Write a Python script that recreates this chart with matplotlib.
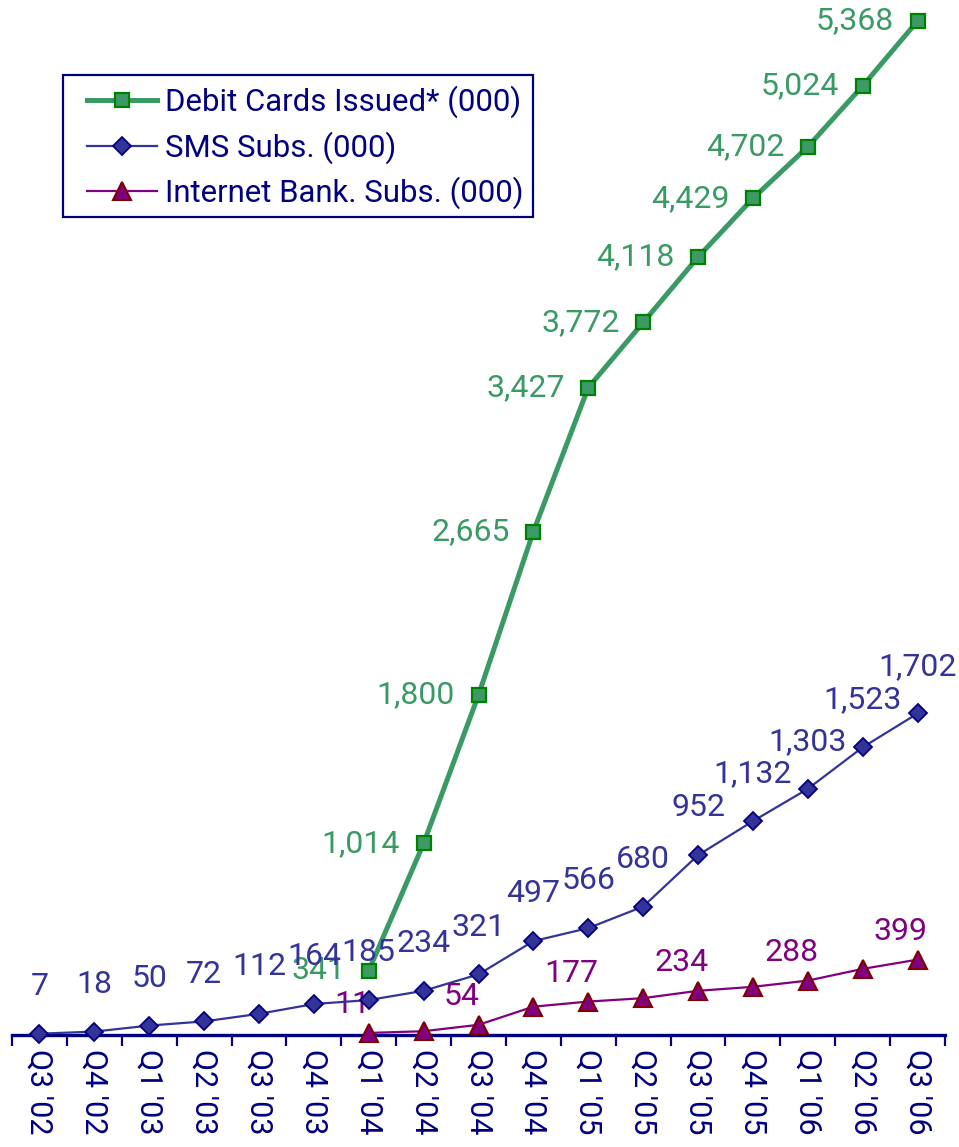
import numpy as np
import matplotlib.pyplot as plt
from matplotlib.patches import Rectangle

plt.rcParams['font.family'] = ['Roboto', 'DejaVu Sans']

quarters = ["Q3 '02", "Q4 '02", "Q1 '03", "Q2 '03", "Q3 '03", "Q4 '03",
            "Q1 '04", "Q2 '04", "Q3 '04", "Q4 '04", "Q1 '05", "Q2 '05",
            "Q3 '05", "Q4 '05", "Q1 '06", "Q2 '06", "Q3 '06"]

nan = np.nan
debit_cards = [nan, nan, nan, nan, nan, nan,
               341, 1014, 1800, 2665, 3427, 3772, 4118, 4429, 4702, 5024, 5368]
sms_subs = [7, 18, 50, 72, 112, 164, 185, 234, 321, 497, 566, 680,
            952, 1132, 1303, 1523, 1702]
internet_subs = [nan, nan, nan, nan, nan, nan,
                 11, 20, 54, 150, 177, 195, 234, 255, 288, 350, 399]
# only every other internet point carries a value label
internet_labelled = [6, 8, 10, 12, 14, 16]

navy = '#000080'
green_line = '#3a9a64'
green_face = '#3c9a64'
green_edge = '#008000'
sms_col = '#333399'
inet_col = '#800080'
inet_edge = '#800000'

W, H = 959, 1147
fig = plt.figure(figsize=(W / 100, H / 100), dpi=100)
ymax = 5400
px_per_unit = 0.1889
ax_h = ymax * px_per_unit / H
ax = fig.add_axes([12 / W, 112 / H, 933 / W, ax_h])

x = np.arange(len(quarters))

ax.plot(x, debit_cards, color=green_line, lw=3.6, marker='s', ms=10,
        mfc=green_face, mec=green_edge, mew=1.6, clip_on=False, zorder=3,
        label='Debit Cards Issued* (000)')
ax.plot(x, sms_subs, color=sms_col, lw=1.6, marker='D', ms=9.5,
        mfc=sms_col, mec=navy, mew=1.3, clip_on=False, zorder=4,
        label='SMS Subs. (000)')
ax.plot(x, internet_subs, color=inet_col, lw=1.6, marker='^', ms=13,
        mfc=inet_col, mec=inet_edge, mew=1.5, clip_on=False, zorder=5,
        label='Internet Bank. Subs. (000)')

fs = 23
for i, v in enumerate(debit_cards):
    if np.isnan(v):
        continue
    ax.annotate(f'{v:,.0f}', (i, v), xytext=(-17, 0), textcoords='offset points',
                ha='right', va='center', fontsize=fs, color=green_line,
                annotation_clip=False)
for i, v in enumerate(sms_subs):
    ax.annotate(f'{v:,.0f}', (i, v), xytext=(0, 34), textcoords='offset points',
                ha='center', va='center', fontsize=fs, color=sms_col,
                annotation_clip=False)
for i in internet_labelled:
    v = internet_subs[i]
    ax.annotate(f'{v:,.0f}', (i, v), xytext=(-12, 20.5), textcoords='offset points',
                ha='center', va='center', fontsize=fs, color=inet_col,
                annotation_clip=False)

ax.set_xlim(-0.5, len(quarters) - 0.5)
ax.set_ylim(0, ymax)

for side in ['left', 'right', 'top']:
    ax.spines[side].set_visible(False)
ax.spines['bottom'].set_color(navy)
ax.spines['bottom'].set_linewidth(2.4)
ax.set_yticks([])

# tick marks sit on category boundaries, labels sit on category centres
ax.set_xticks(np.arange(-0.5, len(quarters), 1.0))
ax.set_xticklabels([])
ax.tick_params(axis='x', which='major', direction='out', length=8, width=1.6,
               color=navy)
ax.set_xticks(x, minor=True)
ax.set_xticklabels(quarters, minor=True, rotation=270, fontsize=22, color=navy)
ax.tick_params(axis='x', which='minor', length=0, pad=10)

# legend entries without frame; the box is drawn separately so the
# inner margins can differ horizontally and vertically
leg = fig.legend(loc='upper left', bbox_to_anchor=(87 / W, 1 - 85.5 / H),
                 fontsize=22.4, frameon=False, handlelength=2.26,
                 handletextpad=0.26, labelspacing=0.42, borderpad=0,
                 borderaxespad=0)
for t in leg.get_texts():
    t.set_color(navy)
fig.add_artist(Rectangle((63 / W, 1 - 217 / H), 470 / W, 142 / H,
                         transform=fig.transFigure, fill=False,
                         edgecolor=navy, linewidth=1.6))

fig.savefig('out.png', dpi=100)
